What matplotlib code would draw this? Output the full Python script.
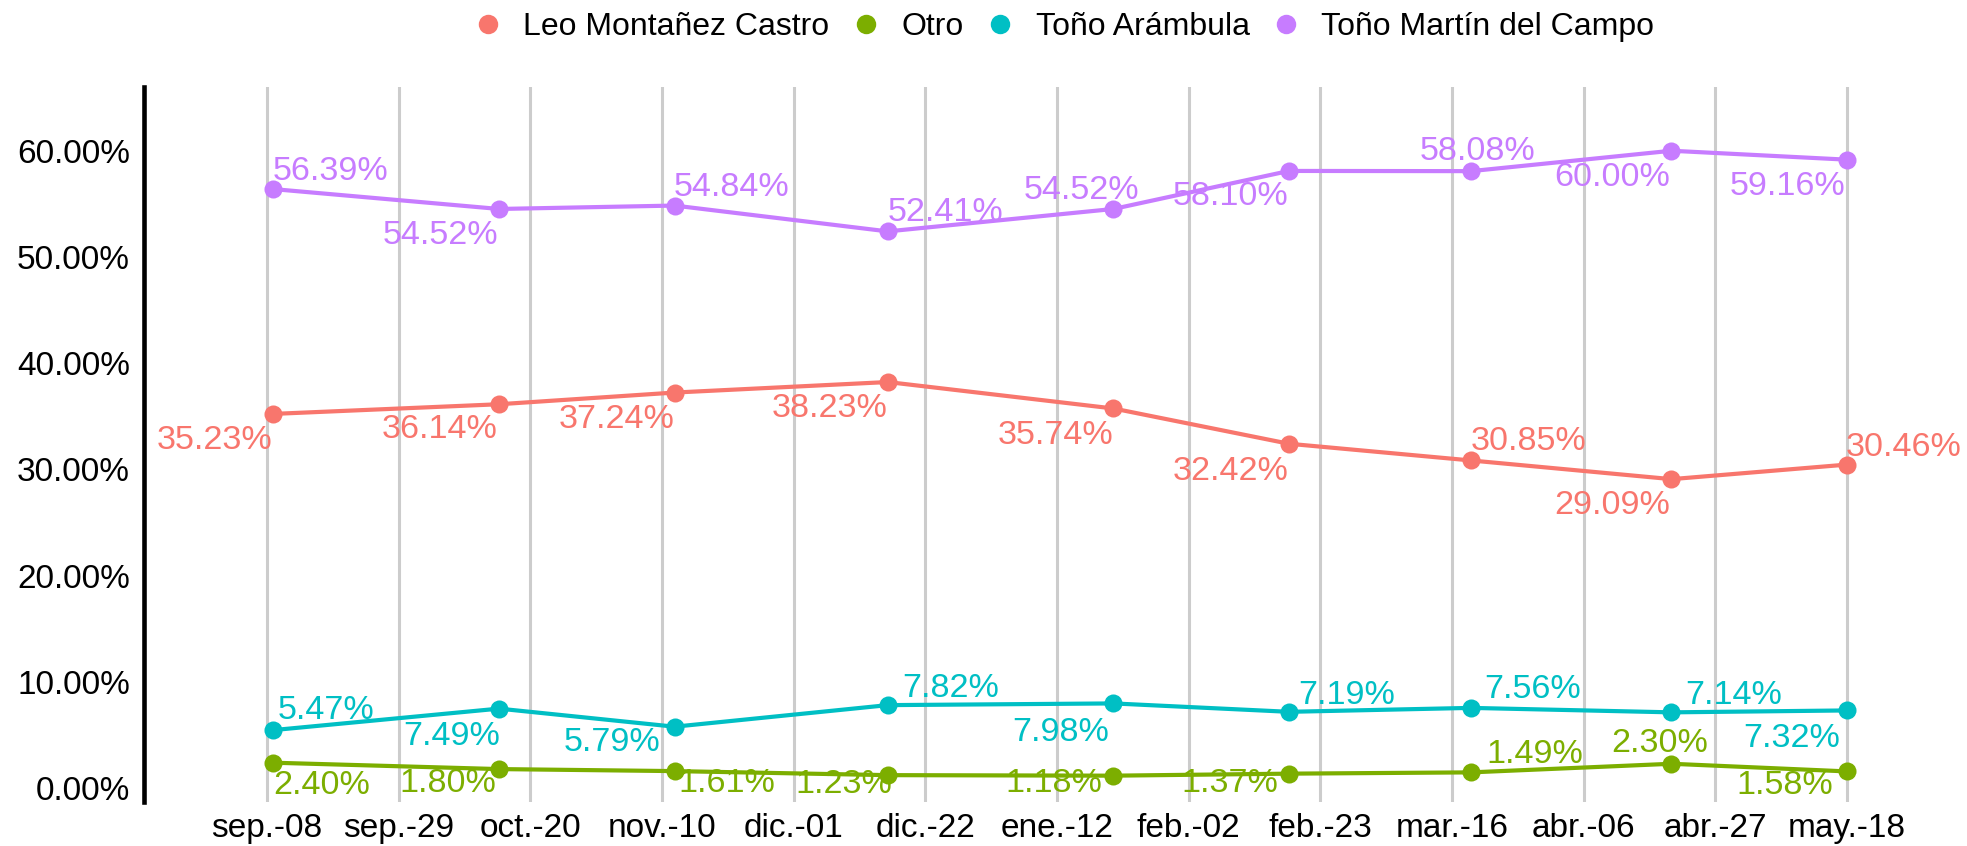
import matplotlib
matplotlib.use("Agg")
import matplotlib.pyplot as plt
import matplotlib.dates as mdates
from matplotlib.lines import Line2D
import numpy as np

plt.rcParams['font.family'] = ['Liberation Sans', 'DejaVu Sans']

# ---------------- data ----------------
dates = ['2017-09-09', '2017-10-15', '2017-11-12', '2017-12-16', '2018-01-21',
         '2018-02-18', '2018-03-19', '2018-04-20', '2018-05-18']
series_names = ['Leo Montañez Castro', 'Otro', 'Toño Arámbula', 'Toño Martín del Campo']
leo = [35.23, 36.14, 37.24, 38.23, 35.74, 32.42, 30.85, 29.09, 30.46]
otro = [2.40, 1.80, 1.61, 1.23, 1.18, 1.37, 1.49, 2.30, 1.58]
arambula = [5.47, 7.49, 5.79, 7.82, 7.98, 7.19, 7.56, 7.14, 7.32]
martin = [56.39, 54.52, 54.84, 52.41, 54.52, 58.10, 58.08, 60.00, 59.16]
tick_dates = ['2017-09-08', '2017-09-29', '2017-10-20', '2017-11-10', '2017-12-01',
              '2017-12-22', '2018-01-12', '2018-02-02', '2018-02-23', '2018-03-16',
              '2018-04-06', '2018-04-27', '2018-05-18']
tick_labels = ['sep.-08', 'sep.-29', 'oct.-20', 'nov.-10', 'dic.-01', 'dic.-22',
               'ene.-12', 'feb.-02', 'feb.-23', 'mar.-16', 'abr.-06', 'abr.-27', 'may.-18']
y_ticks = [0, 10, 20, 30, 40, 50, 60]

# ---------------- style / layout ----------------
colors = ['#F8766D', '#7CAE00', '#00BFC4', '#C77CFF']
# label offsets (pixels, dx right, dy down) relative to each point
label_offsets = {
    'Leo Montañez Castro': [(-59, 23), (-59, 22), (-58, 23), (-58, 23), (-58, 23),
                            (-58, 24), (58, -23), (-59, 23), (57, -21)],
    'Otro': [(48, 19), (-51, 11), (52, 9), (-44, 6), (-60, 4), (-59, 6),
             (64, -22), (-12, -24), (-62, 10)],
    'Toño Arámbula': [(53, -23), (-47, 24), (-62, 12), (63, -20), (-53, 25),
                      (58, -20), (62, -22), (62, -21), (-55, 24)],
    'Toño Martín del Campo': [(57, -21), (-59, 23), (57, -22), (58, -23), (-32, -22),
                              (-58, 22), (7, -23), (-59, 23), (-59, 23)],
}

W, H, DPI = 1967, 846, 100
fig = plt.figure(figsize=(W / DPI, H / DPI), dpi=DPI)
left_px, right_px, top_px, bot_px = 144, 1967, 87, 801.7
ax = fig.add_axes([left_px / W, 1 - bot_px / H, (right_px - left_px) / W, (bot_px - top_px) / H])

x = mdates.datestr2num(dates)
values = [leo, otro, arambula, martin]
px_per_pt = DPI / 72.0
lbl_fs = 24.6
cap_half_px = 0.716 * lbl_fs * px_per_pt / 2

for name, vals, c in zip(series_names, values, colors):
    ax.plot(x, vals, color=c, lw=3.0, zorder=3, solid_capstyle='round')
    ax.plot(x, vals, 'o', color=c, ms=13, zorder=4, mec='none')
    for xi, yi, (dx, dy) in zip(x, vals, label_offsets[name]):
        ax.annotate(f'{yi:.2f}%', (xi, yi), xytext=(dx / px_per_pt, -(dy + cap_half_px) / px_per_pt),
                    textcoords='offset points', ha='center', va='baseline',
                    color=c, fontsize=lbl_fs, zorder=5, annotation_clip=False)

t0 = mdates.datestr2num('2017-09-08')
ax.set_xlim(t0 - 19.62, t0 + (1967 - 267) / 6.270)
ax.set_ylim(-1.27, 66.0)

tx = mdates.datestr2num(tick_dates)
ax.set_xticks(tx)
ax.set_xticklabels(tick_labels, fontsize=24)
ax.set_yticks(y_ticks)
ax.set_yticklabels([f'{v:.2f}%' for v in y_ticks], fontsize=24)
ax.tick_params(axis='both', length=0, colors='black')
ax.tick_params(axis='y', pad=10)
ax.tick_params(axis='x', pad=8)

ax.grid(axis='x', color='#cccccc', lw=2.2, zorder=0)
ax.grid(axis='y', visible=False)
ax.set_axisbelow(True)
for s in ['top', 'right', 'bottom']:
    ax.spines[s].set_visible(False)
ax.spines['left'].set_color('black')
ax.spines['left'].set_linewidth(3.3)

handles = [Line2D([], [], marker='o', linestyle='', color=c, markersize=14, mec='none') for c in colors]
fig.legend(handles, series_names, loc='center', bbox_to_anchor=(1063 / W, 1 - 27 / H),
           ncol=4, frameon=False, fontsize=23, handlelength=1.0, handletextpad=0.625,
           columnspacing=0.625, borderaxespad=0)

fig.savefig('out.png', dpi=DPI, facecolor='white')
